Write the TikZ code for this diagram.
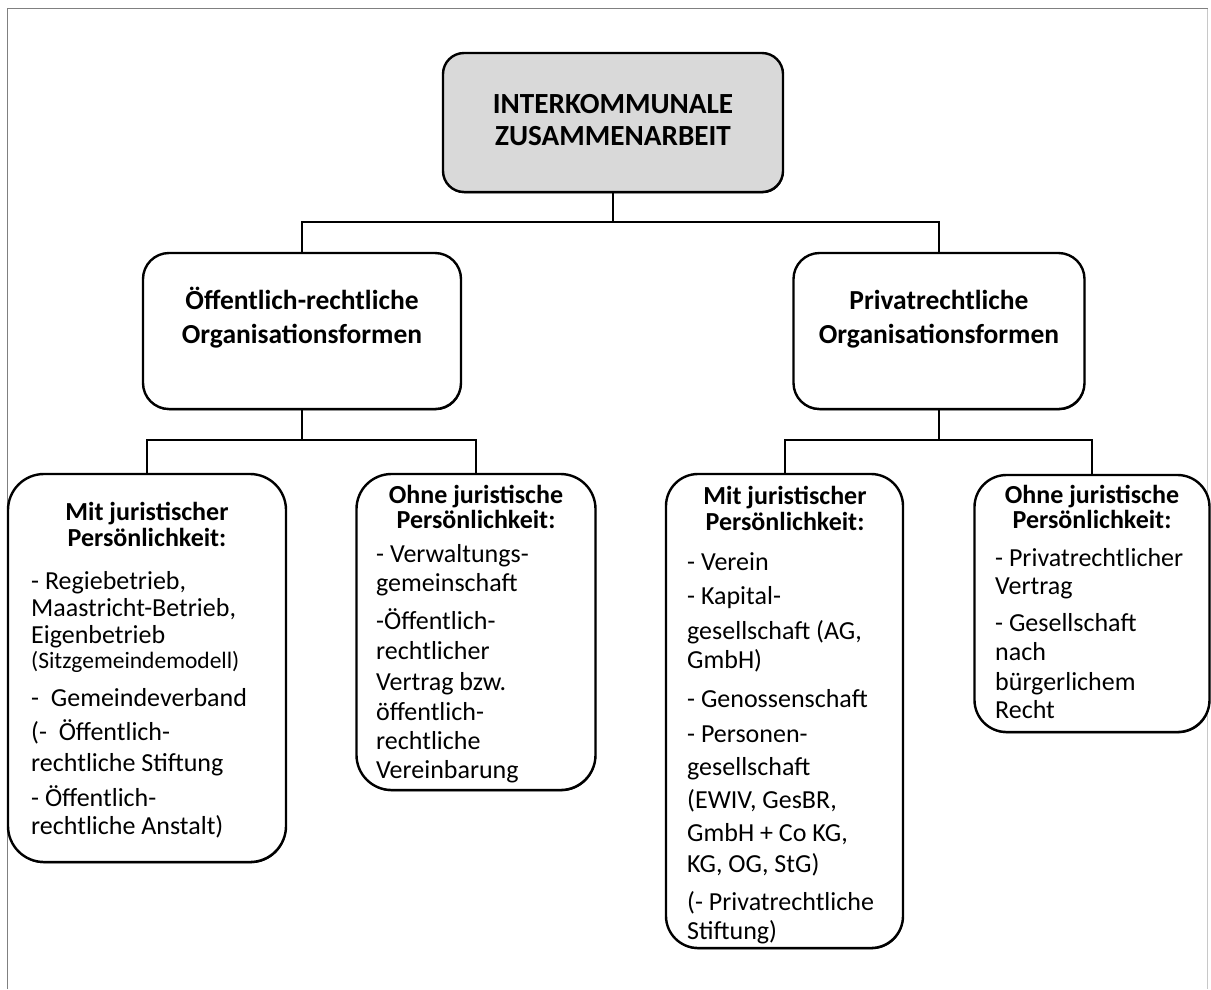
\documentclass[tikz,border=0pt]{standalone}
\usepackage{fontspec}
\setmainfont{Carlito}
\usetikzlibrary{shadows}
\definecolor{topfill}{HTML}{D9D9D9}
\definecolor{framegray}{HTML}{808080}
\definecolor{framelight}{HTML}{C8C8C8}
\tikzset{
  box/.style={draw=black, line width=2.4pt, fill=white, inner sep=0pt,
    general shadow={fill=black, shadow xshift=0.6pt, shadow yshift=-1.3pt}},
  conn/.style={draw=black, line width=2pt},
  ttl/.style={anchor=base, inner sep=0pt, font=\bfseries\fontsize{29.2}{32}\selectfont},
  midtxt/.style={anchor=base, inner sep=0pt, font=\bfseries\fontsize{27.5}{32}\selectfont},
  hdr/.style={anchor=base, inner sep=0pt, font=\bfseries\fontsize{26}{30}\selectfont},
  txt/.style={anchor=base west, inner sep=0pt, font=\fontsize{26}{30}\selectfont},
  sml/.style={anchor=base west, inner sep=0pt, font=\fontsize{23.5}{27}\selectfont}
}
\begin{document}
\begin{tikzpicture}[x=1pt,y=-1pt]
\useasboundingbox (0,0) rectangle (1211,989);
% page frame
\draw[framegray, line width=1.6pt] (7.5,989) -- (7.5,8.5) -- (1207.5,8.5);
\draw[framelight, line width=1.4pt] (1207.5,8.5) -- (1207.5,989);

% boxes
\node[box, fill=topfill, minimum width=340pt, minimum height=139pt, rounded corners=21pt] (top) at (613,122.5) {};
\node[box, minimum width=318pt, minimum height=156pt, rounded corners=26pt] (pub) at (302,331) {};
\node[box, minimum width=291pt, minimum height=156pt, rounded corners=26pt] (priv) at (939,331) {};
\node[box, minimum width=278pt, minimum height=388pt, rounded corners=36pt] (ll) at (147,668) {};
\node[box, minimum width=239pt, minimum height=316pt, rounded corners=35pt] (lr) at (476,632) {};
\node[box, minimum width=237pt, minimum height=474pt, rounded corners=32pt] (rl) at (784.5,711) {};
\node[box, minimum width=235pt, minimum height=257pt, rounded corners=32pt] (rr) at (1092,603.5) {};

% connectors
\coordinate (j0) at (613,222);
\coordinate (j1) at (302,440);
\coordinate (j2) at (939,440);
\draw[conn] (top.south) -- (j0);
\draw[conn] (j0) -| (pub.north);
\draw[conn] (j0) -| (priv.north);
\draw[conn] (pub.south) -- (j1);
\draw[conn] (j1) -| (ll.north);
\draw[conn] (j1) -| (lr.north);
\draw[conn] (priv.south) -- (j2);
\draw[conn] (j2) -| (rl.north);
\draw[conn] (j2) -| (rr.north);

% title
\node[ttl] (t1) at (613,113) {INTERKOMMUNALE};
\node[ttl] (t2) at (613,145) {ZUSAMMENARBEIT};

% middle level
\node[midtxt] (p1) at (302,309) {Öffentlich-rechtliche};
\node[midtxt] (p2) at (302,343) {Organisationsformen};
\node[midtxt] (q1) at (939,309) {Privatrechtliche};
\node[midtxt] (q2) at (939,343) {Organisationsformen};

% bottom left (public, with legal personality)
\node[hdr] (a1) at (147,520) {Mit juristischer};
\node[hdr] (a2) at (147,546) {Persönlichkeit:};
\node[txt] (a3) at (31,589) {- Regiebetrieb,};
\node[txt] (a4) at (31,616) {Maastricht-Betrieb,};
\node[txt] (a5) at (31,643) {Eigenbetrieb};
\node[sml] (a6) at (31,668) {(Sitzgemeindemodell)};
\node[txt] (a7) at (31,706) {-\ \ Gemeindeverband};
\node[txt] (a8) at (31,740) {(-\ \ Öffentlich-};
\node[txt] (a9) at (31,771) {rechtliche Stiftung};
\node[txt] (a10) at (31,806) {- Öffentlich-};
\node[txt] (a11) at (31,834) {rechtliche Anstalt)};

% bottom: public, without legal personality
\node[hdr] (b1) at (476,503) {Ohne juristische};
\node[hdr] (b2) at (476,528) {Persönlichkeit:};
\node[txt] (b3) at (376,562) {- Verwaltungs-};
\node[txt] (b4) at (376,591) {gemeinschaft};
\node[txt] (b5) at (376,629) {-Öffentlich-};
\node[txt] (b6) at (376,659) {rechtlicher};
\node[txt] (b7) at (376,690) {Vertrag bzw.};
\node[txt] (b8) at (376,720) {öffentlich-};
\node[txt] (b9) at (376,749) {rechtliche};
\node[txt] (b10) at (376,778) {Vereinbarung};

% bottom: private, with legal personality
\node[hdr] (c1) at (785,504) {Mit juristischer};
\node[hdr] (c2) at (785,530) {Persönlichkeit:};
\node[txt] (c3) at (687,570) {- Verein};
\node[txt] (c4) at (687,604) {- Kapital-};
\node[txt] (c5) at (687,639) {gesellschaft (AG,};
\node[txt] (c6) at (687,668) {GmbH)};
\node[txt] (c7) at (687,707) {- Genossenschaft};
\node[txt] (c8) at (687,742) {- Personen-};
\node[txt] (c9) at (687,775) {gesellschaft};
\node[txt] (c10) at (687,808) {(EWIV, GesBR,};
\node[txt] (c11) at (687,841) {GmbH + Co KG,};
\node[txt] (c12) at (687,872) {KG, OG, StG)};
\node[txt] (c13) at (687,910) {(- Privatrechtliche};
\node[txt] (c14) at (687,939) {Stiftung)};

% bottom: private, without legal personality
\node[hdr] (d1) at (1092,503) {Ohne juristische};
\node[hdr] (d2) at (1092,528) {Persönlichkeit:};
\node[txt] (d3) at (995,566) {- Privatrechtlicher};
\node[txt] (d4) at (995,594) {Vertrag};
\node[txt] (d5) at (995,631) {- Gesellschaft};
\node[txt] (d6) at (995,660) {nach};
\node[txt] (d7) at (995,690) {bürgerlichem};
\node[txt] (d8) at (995,718) {Recht};
\end{tikzpicture}
\end{document}
